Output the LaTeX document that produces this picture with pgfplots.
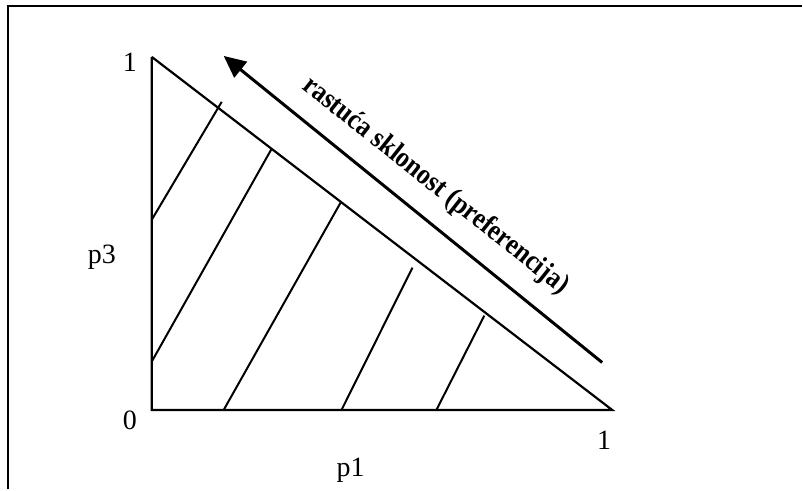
\documentclass[border=0pt]{standalone}
\usepackage{pgfplots}
\pgfplotsset{compat=1.18}
\usepackage{fontspec}
\setmainfont{Liberation Serif}
\newfontfamily\condfont[FakeStretch=0.88]{Liberation Serif}
\usetikzlibrary{arrows.meta}
\begin{document}
\begin{tikzpicture}
\begin{axis}[
  scale only axis, width=803pt, height=490pt,
  xmin=0, xmax=803, ymin=0, ymax=490, y dir=reverse,
  hide axis, clip=false,
]
\path (axis cs:0,0) rectangle (axis cs:803,490);
% frame (left and top)
\addplot[black, line width=2.2pt] coordinates {(8,490) (8,6) (803,6)};
% triangle
\addplot[black, line width=2.2pt] coordinates {(152,57) (152,410.5) (613,410.5) (152,57)};
% hatch lines
\addplot[black, line width=2pt] coordinates {(152,220) (222,102)};
\addplot[black, line width=2pt] coordinates {(152,362) (272,149)};
\addplot[black, line width=2pt] coordinates {(224,410.5) (341,203)};
\addplot[black, line width=2pt] coordinates {(342,410.5) (413,268)};
\addplot[black, line width=2pt] coordinates {(437,410.5) (485,316)};
% arrow
\addplot[black, line width=3pt, -{Triangle[length=22pt,width=20pt]}] coordinates {(603,363) (224,56)};
\node[rotate=-38.5, font=\condfont\fontsize{29}{31}\selectfont\bfseries] at (axis cs:436,186) {rastuća sklonost (preferencija)};
% labels
\node[anchor=base, font=\fontsize{28}{30}\selectfont] at (axis cs:130,72) {1};
\node[anchor=base, font=\fontsize{28}{30}\selectfont] at (axis cs:130,430) {0};
\node[anchor=base, font=\fontsize{28}{30}\selectfont] at (axis cs:605,450) {1};
\node[anchor=base, font=\fontsize{28}{30}\selectfont] at (axis cs:351,477) {p1};
\node[anchor=base, font=\fontsize{28}{30}\selectfont] at (axis cs:102,264) {p3};
\end{axis}
\end{tikzpicture}
\end{document}
